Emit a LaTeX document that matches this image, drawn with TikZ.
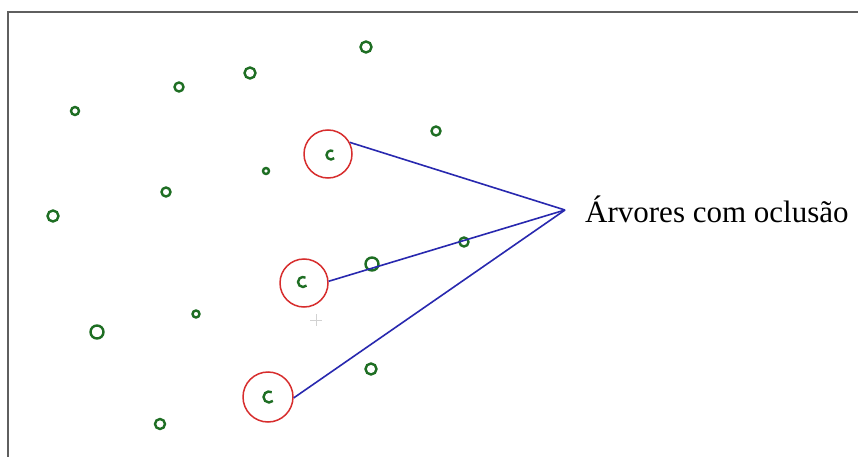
\documentclass[tikz,border=0pt]{standalone}
\usepackage{fontspec}
\setmainfont{Liberation Serif}
\definecolor{treegreen}{RGB}{30,110,35}
\definecolor{occred}{RGB}{215,45,45}
\definecolor{lineblue}{RGB}{40,40,175}
\definecolor{framegray}{RGB}{95,95,95}
\tikzset{
  tree/.style={draw=treegreen, line width=2.4pt},
  occl/.style={circle, draw=occred, line width=1.5pt, minimum size=48pt, inner sep=0pt},
  pointer/.style={draw=lineblue, line width=1.6pt},
  mark c/.style={draw=treegreen, line width=2.4pt},
}
\begin{document}
\begin{tikzpicture}[x=1pt,y=-1pt]
\useasboundingbox (0,0) rectangle (858,457);
\fill[white] (0,0) rectangle (858,457);
% frame
\draw[framegray, line width=1.6pt] (8,457) -- (8,12) -- (858,12);
% trees
\draw[tree] (75,111) circle (4);
\draw[tree] (179,87) circle (4.5);
\draw[tree] (250,73) circle (5.5);
\draw[tree] (366,47) circle (5.5);
\draw[tree] (436,131) circle (4.5);
\draw[tree] (266,171) circle (3);
\draw[tree] (166,192) circle (4.5);
\draw[tree] (53,216) circle (5.5);
\draw[tree] (372,264) circle (6.5);
\draw[tree] (464,242) circle (4.5);
\draw[tree] (97,332) circle (6.5);
\draw[tree] (196,314) circle (3.5);
\draw[tree] (371,369) circle (5.5);
\draw[tree] (160,424) circle (5);
% faint cross
\draw[gray!35, line width=0.8pt] (310,320) -- (322,320) (316,314) -- (316,326);
% occluded trees
\node[occl] (t1) at (328,154) {};
\node[occl] (t2) at (304,283) {};
\node[occl, minimum size=50pt] (t3) at (268,397) {};
\draw[mark c] ([shift={(3,1)}]t1.center) ++(45:4.5) arc (45:300:4.5);
\draw[mark c] ([shift={(-1,-1)}]t2.center) ++(45:5) arc (45:300:5);
\draw[mark c] ([shift={(1,0)}]t3.center) ++(45:5.5) arc (45:300:5.5);
% pointers
\coordinate (p) at (565,210);
\node[anchor=base west, inner sep=0pt, font=\fontsize{31}{37}\selectfont] (lab) at (585,222) {Árvores com oclusão};
\draw[pointer] (t1.28) -- (p);
\draw[pointer] (t2.4) -- (p);
\draw[pointer] (t3.-2) -- (p);
\end{tikzpicture}
\end{document}
